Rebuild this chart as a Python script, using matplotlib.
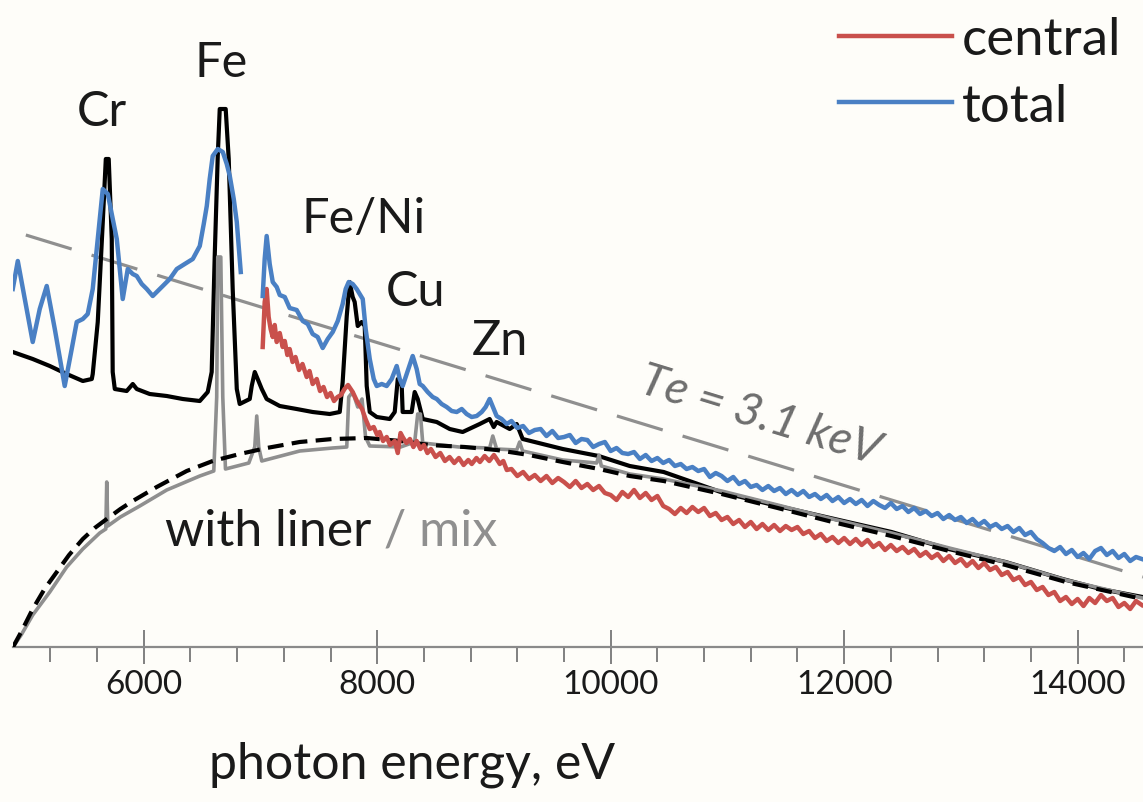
import numpy as np
import matplotlib
matplotlib.use("Agg")
from matplotlib import pyplot as plt
from matplotlib.ticker import MultipleLocator

plt.rcParams['font.family'] = ['Lato', 'DejaVu Sans']

# intensity in arbitrary units (no y axis in the figure)
# ---- total (blue), two pieces ----
total_e1 = [4878, 4921, 4981, 5049, 5109, 5169, 5238, 5323, 5383, 5426, 5478, 5520, 5563, 5606,
            5649, 5692, 5726, 5769, 5820, 5863, 5906, 5940, 5983, 6026, 6077, 6120, 6163, 6223,
            6283, 6351, 6420, 6480, 6514, 6540, 6565, 6591, 6634, 6677, 6711, 6737, 6771, 6797, 6831]
total_i1 = [358, 386, 348, 305, 338, 361, 318, 261, 298, 325, 328, 333, 358, 408,
            458, 453, 433, 408, 348, 378, 373, 371, 363, 358, 351, 356, 361, 368,
            378, 383, 388, 401, 423, 441, 468, 491, 498, 495, 483, 471, 448, 425, 375]

total_e2 = [7019, 7036, 7053, 7079, 7105, 7139, 7165, 7208, 7250, 7310, 7362, 7405, 7447, 7490,
            7533, 7576, 7619, 7662, 7704, 7730, 7756, 7790, 7824, 7850, 7876, 7901, 7936, 7970,
            7996, 8039, 8081, 8124, 8167, 8193, 8218, 8261, 8304, 8338, 8364, 8390, 8432, 8475,
            8510, 8552, 8595, 8638, 8681, 8724, 8766, 8809, 8852, 8895, 8929, 8963, 8998, 9023,
            9066, 9109]
total_i2 = [351, 388, 411, 383, 365, 360, 352, 350, 339, 337, 326, 323, 313, 310,
            299, 308, 315, 326, 343, 358, 365, 363, 358, 353, 348, 318, 288, 268,
            261, 263, 261, 268, 281, 268, 261, 276, 291, 278, 263, 261, 255, 250,
            248, 243, 240, 236, 235, 238, 233, 230, 231, 235, 240, 248, 238, 231,
            228, 223]

tail_e = np.arange(9150, 14551, 50)
total_tail = [226, 219, 221, 214, 217, 218, 211, 216, 209, 210,
              212, 204, 208, 207, 200, 203, 205, 196, 199, 194,
              193, 195, 188, 192, 186, 189, 184, 187, 181, 183,
              178, 180, 176, 178, 170, 174, 171, 166, 170, 163,
              166, 160, 162, 157, 161, 156, 159, 153, 157, 152,
              156, 150, 153, 148, 152, 146, 150, 144, 148, 143,
              147, 141, 146, 142, 139, 144, 138, 141, 135, 139,
              133, 136, 131, 134, 128, 132, 127, 130, 124, 128,
              122, 126, 120, 123, 118, 121, 115, 119, 112, 115,
              108, 104, 99, 96, 100, 93, 97, 90, 94, 88,
              96, 99, 92, 96, 89, 93, 86, 90, 88]

# ---- central (red) ----
central_e1 = [7019, 7036, 7053, 7070, 7087, 7105, 7122, 7139, 7165, 7190, 7208, 7230, 7250, 7275,
              7300, 7330, 7360, 7396, 7420, 7447, 7482, 7510, 7540, 7570, 7600, 7630, 7660, 7690,
              7720, 7750, 7790, 7830, 7870, 7900, 7936, 7970, 8000, 8021, 8050, 8081, 8110, 8150,
              8176, 8200, 8218, 8250, 8280, 8310, 8338, 8370, 8400, 8430, 8460, 8500, 8540, 8580,
              8620, 8660, 8700, 8740, 8780, 8810, 8850, 8880, 8920, 8960, 9000, 9023, 9050, 9080,
              9110]
central_i1 = [300, 345, 358, 330, 318, 310, 322, 305, 314, 300, 306, 292, 298, 285,
              290, 277, 283, 270, 276, 263, 268, 256, 260, 250, 254, 246, 250, 252,
              258, 262, 255, 245, 238, 228, 218, 220, 212, 215, 206, 210, 202, 206,
              194, 214, 210, 204, 208, 200, 206, 198, 202, 194, 198, 190, 194, 186,
              190, 184, 189, 182, 187, 183, 189, 185, 191, 186, 192, 188, 183, 186,
              177]
central_tail = [178, 171, 175, 168, 172, 166, 171, 164, 169, 165,
                160, 166, 159, 163, 157, 161, 154, 152, 147, 155,
                150, 157, 149, 154, 147, 151, 141, 138, 133, 139,
                134, 140, 135, 139, 131, 134, 127, 130, 123, 127,
                120, 125, 118, 123, 117, 122, 116, 121, 117, 120,
                113, 116, 109, 113, 106, 110, 104, 109, 103, 108,
                102, 107, 100, 104, 97, 102, 96, 100, 94, 98,
                91, 95, 89, 93, 86, 91, 84, 88, 81, 86,
                79, 84, 77, 80, 72, 75, 67, 70, 62, 65,
                57, 60, 52, 55, 46, 50, 43, 48, 41, 49,
                44, 52, 46, 49, 40, 44, 38, 46, 42]

# ---- with liner (black solid) ----
liner_e = [4878, 5049, 5195, 5340, 5478, 5555, 5563, 5606, 5649, 5675, 5700, 5726, 5734, 5752,
           5854, 5906, 5940, 6051, 6197, 6334, 6480, 6548, 6582, 6608, 6634, 6651, 6702, 6728,
           6762, 6797, 6822, 6908, 6925, 6951, 6976, 7011, 7053, 7165, 7310, 7447, 7593, 7679,
           7704, 7739, 7764, 7790, 7807, 7833, 7867, 7893, 7910, 7936, 7996, 8107, 8150, 8176,
           8210, 8218, 8295, 8321, 8347, 8390, 8510, 8621, 8732, 8878, 8963, 8998, 9023, 9135,
           9195, 9246, 9589, 9897, 10163, 10454, 10942, 11430, 11918, 12406, 12894, 13383,
           13871, 14197, 14556]
liner_i = [295, 288, 281, 273, 266, 268, 273, 325, 425, 488, 488, 408, 275, 258,
           256, 263, 258, 253, 251, 248, 246, 255, 275, 391, 491, 538, 538, 488,
           358, 258, 243, 248, 261, 275, 268, 258, 248, 241, 238, 235, 233, 235,
           265, 331, 365, 350, 345, 321, 325, 321, 261, 235, 230, 228, 235, 268,
           261, 235, 235, 255, 248, 228, 225, 218, 215, 223, 228, 220, 225, 218,
           223, 208, 198, 191, 181, 175, 155, 141, 128, 115, 98, 85,
           68, 58, 50]

# ---- liner model (black dashed) ----
model_e = [4880, 4950, 5049, 5150, 5255, 5360, 5478, 5580, 5683, 5800, 5906, 6111, 6368, 6591,
           6822, 7053, 7336, 7619, 7910, 8200, 8450, 8750, 9023, 9300, 9589, 9900, 10163, 10454,
           10950, 11430, 11900, 12406, 12900, 13383, 13900, 14556]
model_i = [0, 15, 38, 58, 75, 92, 108, 119, 128, 138, 146, 160, 176, 186,
           193, 199, 205, 208, 209, 206, 202, 200, 197, 192, 185, 178, 171, 166,
           153, 139, 125, 111, 96, 82, 65, 48]

# ---- mix (grey) ----
mix_e = [4880, 4950, 5049, 5195, 5340, 5478, 5623, 5675, 5683, 5692, 5800, 5966, 6197, 6480,
         6600, 6625, 6634, 6660, 6677, 6700, 6900, 6951, 6968, 6985, 7011, 7336, 7619, 7739,
         7756, 7790, 7833, 7870, 7900, 7936, 8200, 8321, 8347, 8370, 8390, 8700, 8963, 8990,
         9023, 9195, 9220, 9246, 9589, 9880, 9900, 9920, 10163, 10454, 10950, 11430, 11900,
         12406, 12900, 13383, 13900, 14556]
mix_i = [0, 12, 32, 55, 80, 98, 114, 118, 165, 121, 130, 141, 157, 171,
         176, 250, 390, 390, 250, 178, 184, 200, 231, 200, 186, 196, 199, 200,
         250, 255, 240, 248, 210, 201, 200, 205, 233, 233, 204, 200, 199, 211,
         198, 197, 205, 196, 187, 184, 192, 181, 173, 168, 156, 142, 128,
         114, 99, 85, 67, 49]

# ---- Te = 3.1 keV reference slope ----
te_e = [4990, 14560]
te_i = [412, 70]

peak_labels = ['Cr', 'Fe', 'Fe/Ni', 'Cu', 'Zn']
peak_pos = [(5640, 536), (6660, 585), (7884, 429), (8330, 356), (9049, 307)]

red = '#c9504c'
blue = '#4a80c4'
grey = '#8f8f8f'
ink = '#1a1a1a'
bg = '#fefdf9'

fig = plt.figure(figsize=(11.43, 8.03), dpi=100, facecolor=bg)
ax = fig.add_axes([13 / 1143, 155 / 803, 1130 / 1143, 648 / 803])
ax.set_facecolor(bg)

ax.plot(te_e, te_i, color=grey, lw=2.3, dashes=(15, 6.5), zorder=1)
ax.plot(liner_e, liner_i, color='black', lw=3.0, zorder=3)
ax.plot(mix_e, mix_i, color=grey, lw=2.6, zorder=4)
ax.plot(model_e, model_i, color='black', lw=3.0, dashes=(3.8, 2.0), zorder=5)
l_red, = ax.plot(central_e1 + list(tail_e), central_i1 + central_tail, color=red, lw=3.2, zorder=6)
ax.plot(total_e1, total_i1, color=blue, lw=3.2, zorder=7)
l_blue, = ax.plot(total_e2 + list(tail_e), total_i2 + total_tail, color=blue, lw=3.2, zorder=7)

for lab, (x, y) in zip(peak_labels, peak_pos):
    ax.text(x, y, lab, fontsize=35, color=ink, ha='center', va='center')

t = ax.text(6180, 116, 'with liner', fontsize=36, color=ink, ha='left', va='center')
ax.annotate(' / mix', xy=(1, 0), xycoords=t, fontsize=36, color=grey, ha='left', va='bottom')

ax.text(11276, 232, 'Te = 3.1 keV', fontsize=34, color='#6e6e6e', style='italic',
        rotation=-17, rotation_mode='anchor', ha='center', va='center')

leg = ax.legend([l_red, l_blue], ['central', 'total'], loc='upper left',
                bbox_to_anchor=(839 / 1143, 1 - 17 / 803), bbox_transform=fig.transFigure,
                frameon=False, fontsize=38, handlelength=2.15, handletextpad=0.17,
                labelspacing=0.37, borderpad=0, borderaxespad=0)
for txt in leg.get_texts():
    txt.set_color(ink)

ax.set_xlim(4880, 14560)
ax.set_ylim(0, 648)
for s in ['left', 'right', 'top']:
    ax.spines[s].set_visible(False)
ax.spines['bottom'].set_color('#8a8a8a')
ax.spines['bottom'].set_linewidth(1.6)
ax.set_yticks([])
ax.xaxis.set_major_locator(MultipleLocator(2000))
ax.xaxis.set_minor_locator(MultipleLocator(400))
ax.tick_params(axis='x', which='major', direction='inout', length=24, width=1.4,
               color='#808080', labelsize=24, labelcolor=ink, pad=4)
ax.tick_params(axis='x', which='minor', direction='out', length=11, width=1.4, color='#808080')

ax.set_xlabel('photon energy, eV', fontsize=36, color=ink)
ax.xaxis.set_label_coords(0.353, -0.145)

fig.savefig('out.png', dpi=100, facecolor=bg)
